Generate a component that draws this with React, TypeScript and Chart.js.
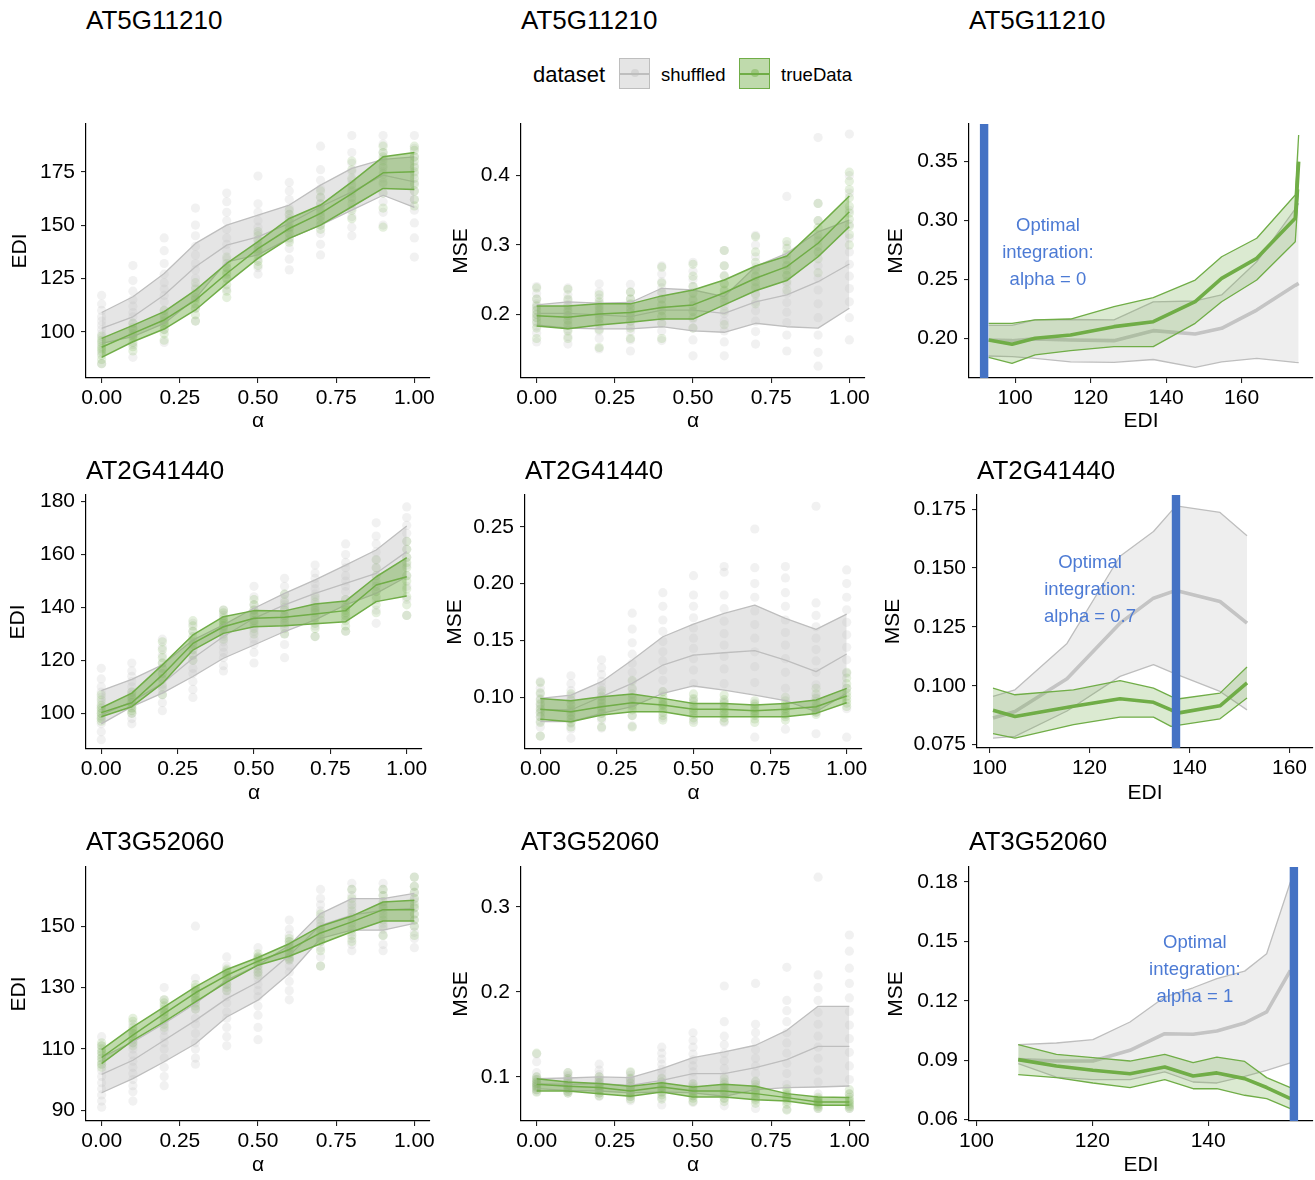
import React, { useEffect, useRef } from "react";
import { Chart, registerables } from "chart.js";
Chart.register(...registerables);

const FONT = "'Liberation Sans', Arial, Helvetica, sans-serif";
const GREEN = "#70AD47";
const GREY = "#BEBEBE";
const BLUE = "#4472C4";
const BLUE_TEXT = "#4C7AD4";

const GENES = ["AT5G11210", "AT2G41440", "AT3G52060"];
const ALPHA = [0, 0.1, 0.2, 0.3, 0.4, 0.5, 0.6, 0.7, 0.8, 0.9, 1.0];
const ALPHA_TICKS = ["0.00", "0.25", "0.50", "0.75", "1.00"];

// ---------------- AT5G11210 ----------------
const G1_EDI_SHUF_HI = [109, 116.4, 127.3, 141.4, 150, 154.7, 159.4, 168.75, 176.6, 180.8, 182];
const G1_EDI_SHUF_MID = [101.6, 107, 117.2, 130.5, 140.6, 144.5, 150.8, 158.6, 165.6, 173.4, 170.3];
const G1_EDI_SHUF_LO = [94.5, 97.7, 103.9, 115.6, 132.8, 136, 143.75, 150, 157, 164, 158.3];
const G1_EDI_TRUE_HI = [96.9, 103, 109.4, 119.5, 132, 142.2, 153.1, 159.4, 170.3, 182, 184];
const G1_EDI_TRUE_MID = [92.7, 99.2, 105.5, 114.8, 127.3, 139, 148.4, 155.5, 164.8, 174.5, 175];
const G1_EDI_TRUE_LO = [88, 95.3, 101.25, 110.2, 122.7, 134.4, 143.75, 150, 158.6, 167.2, 166.7];
const G1_EDI_SHUF_PTS = [
  [117, 113, 110, 107, 105, 103, 101, 99, 97, 94, 90, 85],
  [131, 124, 119, 115, 112, 109, 107, 104, 101, 98, 94, 88],
  [144, 138, 132, 127, 123, 120, 117, 114, 110, 106, 101, 95],
  [158, 150, 145, 140, 136, 132, 129, 125, 121, 116, 111, 105],
  [165, 161, 156, 152, 148, 144, 141, 138, 134, 130, 125, 120],
  [173, 160, 156, 152, 149, 146, 143, 140, 137, 134, 130, 127],
  [170, 166, 162, 158, 155, 152, 149, 146, 143, 139, 134, 129],
  [187, 176, 171, 167, 163, 160, 157, 154, 150, 146, 141, 136],
  [192, 184, 179, 175, 171, 168, 165, 162, 158, 154, 149, 145],
  [192, 188, 184, 181, 178, 175, 172, 169, 165, 161, 156, 150],
  [192, 186, 182, 178, 174, 170, 166, 162, 157, 151, 144, 135],
];
const G1_EDI_TRUE_PTS = [
  [98, 96, 95, 93, 92, 91, 89, 87, 85],
  [104, 102, 101, 99, 98, 97, 95, 93, 91],
  [110, 108, 107, 105, 104, 103, 101, 99, 96],
  [123, 120, 118, 116, 115, 113, 111, 108, 105],
  [135, 132, 130, 128, 127, 125, 122, 119, 116],
  [147, 145, 143, 141, 139, 138, 136, 133, 131],
  [157, 155, 153, 151, 149, 148, 146, 144, 142],
  [166, 163, 160, 158, 156, 154, 152, 150, 148],
  [180, 176, 172, 169, 166, 163, 160, 157, 153],
  [187, 184, 182, 180, 177, 174, 170, 165, 158, 149],
  [187, 185, 182, 180, 177, 175, 172, 169, 166, 162, 159],
];
const G1_MSE_SHUF_HI = [0.2135, 0.218, 0.216, 0.217, 0.2375, 0.235, 0.2255, 0.269, 0.288, 0.319, 0.336];
const G1_MSE_SHUF_MID = [0.2014, 0.2014, 0.199, 0.1966, 0.206, 0.206, 0.2014, 0.218, 0.228, 0.247, 0.2726];
const G1_MSE_SHUF_LO = [0.1846, 0.18, 0.179, 0.179, 0.182, 0.176, 0.174, 0.187, 0.182, 0.18, 0.2087];
const G1_MSE_TRUE_HI = [0.212, 0.212, 0.215, 0.215, 0.2265, 0.235, 0.2495, 0.2697, 0.284, 0.3265, 0.3708];
const G1_MSE_TRUE_MID = [0.198, 0.1957, 0.2005, 0.2024, 0.2096, 0.2135, 0.231, 0.252, 0.2688, 0.3025, 0.348];
const G1_MSE_TRUE_LO = [0.183, 0.179, 0.1846, 0.1885, 0.193, 0.193, 0.2135, 0.234, 0.2486, 0.283, 0.3265];
const G1_MSE_SHUF_PTS = [
  [0.24, 0.23, 0.222, 0.215, 0.21, 0.205, 0.2, 0.195, 0.19, 0.183, 0.173, 0.16],
  [0.238, 0.228, 0.22, 0.214, 0.208, 0.203, 0.198, 0.192, 0.186, 0.178, 0.168, 0.157],
  [0.244, 0.232, 0.223, 0.215, 0.209, 0.203, 0.198, 0.192, 0.185, 0.176, 0.165, 0.15],
  [0.243, 0.232, 0.222, 0.214, 0.208, 0.202, 0.196, 0.19, 0.183, 0.175, 0.163, 0.147],
  [0.27, 0.258, 0.247, 0.238, 0.23, 0.222, 0.214, 0.206, 0.197, 0.187, 0.176, 0.162],
  [0.275, 0.262, 0.25, 0.24, 0.231, 0.222, 0.213, 0.204, 0.193, 0.18, 0.163, 0.14],
  [0.292, 0.27, 0.256, 0.244, 0.233, 0.222, 0.212, 0.201, 0.19, 0.176, 0.16, 0.14],
  [0.314, 0.3, 0.283, 0.268, 0.255, 0.242, 0.23, 0.218, 0.205, 0.19, 0.175, 0.157],
  [0.37, 0.3, 0.285, 0.27, 0.256, 0.243, 0.23, 0.217, 0.203, 0.188, 0.17, 0.147],
  [0.455, 0.36, 0.335, 0.31, 0.29, 0.27, 0.252, 0.235, 0.215, 0.195, 0.17, 0.145, 0.125],
  [0.46, 0.4, 0.375, 0.35, 0.33, 0.31, 0.29, 0.272, 0.255, 0.237, 0.218, 0.195, 0.163],
];
const G1_MSE_TRUE_PTS = [
  [0.238, 0.222, 0.212, 0.206, 0.2, 0.195, 0.188, 0.18, 0.165],
  [0.236, 0.222, 0.212, 0.205, 0.198, 0.191, 0.184, 0.176, 0.165],
  [0.228, 0.218, 0.212, 0.206, 0.2, 0.194, 0.187, 0.178, 0.152],
  [0.232, 0.222, 0.215, 0.209, 0.203, 0.197, 0.19, 0.18, 0.165],
  [0.268, 0.245, 0.232, 0.222, 0.213, 0.205, 0.197, 0.187, 0.165],
  [0.272, 0.255, 0.24, 0.23, 0.22, 0.212, 0.204, 0.195, 0.18],
  [0.292, 0.27, 0.255, 0.244, 0.235, 0.227, 0.218, 0.205, 0.185],
  [0.312, 0.29, 0.275, 0.264, 0.255, 0.247, 0.238, 0.228, 0.215],
  [0.305, 0.295, 0.287, 0.279, 0.271, 0.264, 0.256, 0.247, 0.235],
  [0.36, 0.335, 0.325, 0.315, 0.306, 0.298, 0.29, 0.28, 0.26],
  [0.405, 0.392, 0.38, 0.368, 0.356, 0.346, 0.337, 0.327, 0.315, 0.3],
];
const G1_R_EDI = [93, 99.2, 105.3, 114.7, 126.2, 136.6, 147.7, 154.7, 164, 174.2, 175.1];
const G1_R_SHUF_HI = [0.211, 0.211, 0.2156, 0.216, 0.2156, 0.231, 0.2317, 0.2368, 0.265, 0.31, 0.3146];
const G1_R_SHUF_MID = [0.1986, 0.198, 0.1995, 0.1986, 0.198, 0.2065, 0.2037, 0.2085, 0.224, 0.245, 0.2467];
const G1_R_SHUF_LO = [0.185, 0.1844, 0.183, 0.18, 0.1796, 0.182, 0.1754, 0.18, 0.183, 0.1795, 0.1793];
const G1_R_TRUE_HI = [0.2127, 0.2127, 0.2156, 0.2164, 0.227, 0.2345, 0.2495, 0.2693, 0.285, 0.3217, 0.3726];
const G1_R_TRUE_MID = [0.1986, 0.195, 0.2, 0.2028, 0.2099, 0.2141, 0.2311, 0.2509, 0.2679, 0.3019, 0.35];
const G1_R_TRUE_LO = [0.1839, 0.1788, 0.1859, 0.1895, 0.1929, 0.1929, 0.2127, 0.2311, 0.2495, 0.282, 0.3265];
const G1_OPT_EDI = 91.8;
const G1_OPT_TEXT = ["Optimal", "integration:", "alpha = 0"];

// ---------------- AT2G41440 ----------------
const G2_EDI_SHUF_HI = [108.6, 112.8, 118.3, 127.7, 133.4, 139.7, 145.3, 150.4, 156, 161.7, 170.8];
const G2_EDI_SHUF_MID = [99.4, 104.4, 111.3, 120.8, 129, 135.9, 141, 145.3, 149.1, 152.9, 161.1];
const G2_EDI_SHUF_LO = [96, 102.5, 107.6, 113.9, 120.8, 125.8, 130.9, 135.3, 141, 145.3, 151.6];
const G2_EDI_TRUE_HI = [102.1, 107.6, 118.3, 129.6, 136.5, 138.8, 138.7, 141.3, 142.4, 151.6, 158.8];
const G2_EDI_TRUE_MID = [100.25, 104, 114.5, 126.4, 132.7, 135.9, 136.3, 137.5, 138.8, 148.5, 151.6];
const G2_EDI_TRUE_LO = [98.7, 102.5, 111.3, 123.9, 130.2, 132.7, 133.1, 133.8, 134.6, 142.2, 144.3];
const G2_EDI_SHUF_PTS = [
  [117, 113, 110, 108, 106, 104, 102, 100, 98, 96, 93, 90],
  [119, 116, 114, 112, 110, 108, 106, 104, 102, 100, 98, 96],
  [128, 125, 122, 119, 117, 115, 113, 111, 109, 107, 104, 101],
  [134, 131, 128, 126, 124, 122, 120, 117, 115, 112, 109, 106],
  [139, 137, 135, 133, 131, 129, 127, 125, 123, 121, 118, 116],
  [148, 144, 141, 139, 137, 135, 133, 131, 128, 126, 123, 119],
  [151, 148, 145, 143, 141, 139, 137, 135, 133, 130, 126, 121],
  [156, 153, 151, 149, 147, 145, 143, 141, 139, 136, 133, 129],
  [164, 160, 157, 155, 152, 150, 148, 146, 143, 140, 136, 131],
  [172, 167, 164, 161, 158, 155, 152, 149, 146, 143, 139, 134],
  [178, 174, 171, 168, 165, 162, 159, 156, 152, 148, 143, 137],
];
const G2_EDI_TRUE_PTS = [
  [107, 105, 103, 102, 101, 100, 99, 98, 97],
  [108, 107, 106, 105, 104, 103, 102, 101, 100],
  [127, 124, 121, 119, 117, 115, 113, 110, 107],
  [135, 133, 131, 129, 127, 126, 124, 122, 120],
  [139, 138, 136, 135, 134, 133, 132, 130, 128],
  [143, 141, 139, 138, 137, 135, 134, 132, 130],
  [145, 142, 140, 139, 137, 136, 134, 132, 130],
  [144, 142, 140, 139, 138, 136, 134, 132, 129],
  [143, 141, 140, 139, 138, 137, 135, 133, 131],
  [158, 155, 152, 150, 148, 146, 144, 141, 138],
  [165, 162, 159, 157, 155, 152, 150, 147, 144, 141, 137],
];
const G2_MSE_SHUF_HI = [0.0991, 0.102, 0.1138, 0.1328, 0.1533, 0.1644, 0.1738, 0.1811, 0.1694, 0.1598, 0.1732];
const G2_MSE_SHUF_MID = [0.0895, 0.0889, 0.1006, 0.1123, 0.1284, 0.1372, 0.1392, 0.141, 0.1328, 0.1226, 0.1381];
const G2_MSE_SHUF_LO = [0.0786, 0.0786, 0.0859, 0.0918, 0.1035, 0.11, 0.1064, 0.102, 0.0971, 0.0874, 0.1035];
const G2_MSE_TRUE_HI = [0.0991, 0.0971, 0.1006, 0.1029, 0.0991, 0.0947, 0.0947, 0.0933, 0.0947, 0.0977, 0.1079];
const G2_MSE_TRUE_MID = [0.0895, 0.0874, 0.0918, 0.0953, 0.0933, 0.0895, 0.0895, 0.0883, 0.0895, 0.0918, 0.1012];
const G2_MSE_TRUE_LO = [0.0807, 0.0786, 0.0845, 0.0874, 0.0874, 0.083, 0.083, 0.083, 0.083, 0.0859, 0.0953];
const G2_MSE_SHUF_PTS = [
  [0.114, 0.108, 0.103, 0.099, 0.095, 0.092, 0.089, 0.086, 0.083, 0.079, 0.074, 0.066],
  [0.119, 0.112, 0.106, 0.101, 0.097, 0.093, 0.089, 0.085, 0.081, 0.077, 0.072, 0.064],
  [0.133, 0.126, 0.12, 0.114, 0.109, 0.104, 0.1, 0.096, 0.091, 0.086, 0.08, 0.073],
  [0.174, 0.16, 0.148, 0.138, 0.13, 0.122, 0.114, 0.107, 0.1, 0.092, 0.084, 0.075],
  [0.192, 0.18, 0.168, 0.158, 0.149, 0.14, 0.132, 0.124, 0.115, 0.105, 0.094, 0.082],
  [0.207, 0.19, 0.18, 0.17, 0.161, 0.152, 0.143, 0.134, 0.124, 0.112, 0.098, 0.08],
  [0.215, 0.21, 0.19, 0.178, 0.167, 0.156, 0.146, 0.136, 0.125, 0.112, 0.096, 0.078],
  [0.248, 0.214, 0.2, 0.188, 0.176, 0.164, 0.152, 0.14, 0.127, 0.113, 0.095, 0.065],
  [0.215, 0.205, 0.192, 0.18, 0.168, 0.157, 0.146, 0.134, 0.122, 0.108, 0.092, 0.072],
  [0.268, 0.183, 0.172, 0.162, 0.152, 0.142, 0.132, 0.122, 0.111, 0.1, 0.087, 0.068],
  [0.212, 0.2, 0.188, 0.177, 0.166, 0.155, 0.144, 0.133, 0.121, 0.108, 0.09, 0.065],
];
const G2_MSE_TRUE_PTS = [
  [0.113, 0.104, 0.098, 0.094, 0.09, 0.087, 0.083, 0.078, 0.066],
  [0.103, 0.098, 0.094, 0.09, 0.087, 0.084, 0.081, 0.078, 0.074],
  [0.106, 0.101, 0.098, 0.095, 0.092, 0.089, 0.086, 0.082, 0.074],
  [0.115, 0.108, 0.103, 0.099, 0.096, 0.093, 0.089, 0.084, 0.074],
  [0.105, 0.101, 0.098, 0.095, 0.093, 0.09, 0.087, 0.084, 0.08],
  [0.103, 0.099, 0.096, 0.093, 0.09, 0.088, 0.085, 0.082, 0.078],
  [0.102, 0.098, 0.095, 0.092, 0.09, 0.087, 0.085, 0.082, 0.079],
  [0.097, 0.094, 0.092, 0.09, 0.088, 0.086, 0.084, 0.081, 0.078],
  [0.1, 0.097, 0.094, 0.092, 0.09, 0.088, 0.085, 0.083, 0.08],
  [0.108, 0.103, 0.099, 0.096, 0.093, 0.091, 0.089, 0.087, 0.085],
  [0.122, 0.117, 0.112, 0.108, 0.104, 0.101, 0.098, 0.095, 0.092],
];
const G2_R_SHUF_EDI = [100.7, 105.1, 115.5, 126.1, 132.8, 137.3, 146.1, 151.5];
const G2_R_SHUF_HI = [0.0955, 0.0983, 0.118, 0.155, 0.1655, 0.1764, 0.1736, 0.1637];
const G2_R_SHUF_MID = [0.0863, 0.0891, 0.103, 0.1266, 0.1372, 0.1405, 0.1358, 0.1266];
const G2_R_SHUF_LO = [0.0778, 0.0785, 0.0893, 0.104, 0.109, 0.105, 0.0976, 0.0898];
const G2_R_TRUE_EDI = [100.7, 105.1, 116.8, 126.1, 132.8, 136.3, 137.6, 146.1, 151.5];
const G2_R_TRUE_HI = [0.099, 0.0962, 0.0983, 0.1022, 0.099, 0.0955, 0.0944, 0.0969, 0.108];
const G2_R_TRUE_MID = [0.0896, 0.087, 0.0913, 0.0945, 0.093, 0.0898, 0.0884, 0.0915, 0.1012];
const G2_R_TRUE_LO = [0.0797, 0.0778, 0.0835, 0.0867, 0.0867, 0.0828, 0.0832, 0.086, 0.0948];
const G2_OPT_EDI = 137.3;
const G2_OPT_TEXT = ["Optimal", "integration:", "alpha = 0.7"];

// ---------------- AT3G52060 ----------------
const G3_EDI_SHUF_HI = [107.2, 112.3, 118.3, 124.8, 132.4, 137.3, 143.8, 154.1, 159, 159, 160.7];
const G3_EDI_SHUF_MID = [101.7, 106.3, 112.8, 119.3, 126.4, 131.8, 140.5, 150.3, 153.6, 155.2, 155.8];
const G3_EDI_SHUF_LO = [95.7, 100.3, 105.8, 111.7, 120.4, 125.9, 134.6, 146, 148.7, 148.7, 150.9];
const G3_EDI_TRUE_HI = [109.8, 117.2, 123.7, 130.2, 135.9, 139.8, 144.3, 150, 153.3, 157.9, 158.5];
const G3_EDI_TRUE_MID = [107.2, 114.5, 121.5, 128.3, 134, 138.6, 142.4, 147.8, 151.4, 155.4, 155.4];
const G3_EDI_TRUE_LO = [105.2, 112.8, 118.8, 125.3, 131.8, 137.3, 140.2, 144.3, 148.2, 151.7, 151.7];
const G3_EDI_SHUF_PTS = [
  [114, 111, 109, 107, 105, 103, 101, 99, 97, 95, 93, 91],
  [118, 115, 112, 110, 108, 106, 104, 102, 100, 98, 96, 93],
  [130, 126, 122, 119, 116, 114, 112, 110, 107, 104, 101, 98],
  [150, 133, 129, 126, 123, 120, 118, 115, 112, 110, 107, 105],
  [140, 137, 134, 131, 129, 127, 125, 122, 120, 117, 114, 111],
  [143, 140, 137, 135, 133, 131, 129, 127, 124, 121, 117, 113],
  [152, 149, 147, 145, 143, 141, 139, 137, 135, 132, 129, 126],
  [162, 159, 157, 155, 153, 151, 149, 147, 145, 143, 140, 137],
  [164, 162, 160, 158, 156, 154, 152, 150, 148, 146, 144, 142],
  [164, 162, 160, 158, 156, 155, 153, 151, 149, 147, 144, 142],
  [166, 163, 161, 159, 158, 156, 154, 152, 150, 148, 146, 143],
];
const G3_EDI_TRUE_PTS = [
  [112, 111, 110, 109, 108, 107, 106, 105, 104],
  [120, 119, 117, 116, 115, 114, 113, 112, 111],
  [126, 125, 124, 123, 122, 121, 120, 118, 117],
  [131, 130, 129, 128, 127, 126, 125, 124, 123],
  [136, 135.5, 135, 134, 133, 132, 131, 130, 129],
  [141, 140, 139.5, 139, 138, 137, 136, 135, 134],
  [146, 145, 144, 143, 142, 141, 140, 139.5, 139],
  [154, 152, 150, 149, 148, 146, 145, 142, 137],
  [162, 159, 157, 155, 153, 151, 149, 147, 145],
  [162, 160, 158, 157, 156, 154, 152, 150, 147],
  [166, 163, 161, 159, 157, 156, 154, 152, 150, 147],
];
const G3_MSE_SHUF_HI = [0.098, 0.0988, 0.1, 0.0992, 0.1098, 0.1227, 0.1294, 0.1373, 0.1549, 0.1831, 0.1831];
const G3_MSE_SHUF_MID = [0.0922, 0.0914, 0.0922, 0.0902, 0.0961, 0.1039, 0.1039, 0.111, 0.1204, 0.1361, 0.1361];
const G3_MSE_SHUF_LO = [0.0863, 0.0843, 0.0835, 0.0812, 0.0824, 0.0812, 0.0773, 0.0851, 0.0875, 0.0882, 0.0894];
const G3_MSE_TRUE_HI = [0.098, 0.0941, 0.0922, 0.089, 0.0933, 0.0882, 0.0914, 0.089, 0.0804, 0.0765, 0.0757];
const G3_MSE_TRUE_MID = [0.0914, 0.089, 0.0875, 0.0835, 0.0882, 0.0835, 0.0835, 0.0804, 0.0757, 0.0706, 0.0706];
const G3_MSE_TRUE_LO = [0.0835, 0.0835, 0.0804, 0.0773, 0.0824, 0.0765, 0.0765, 0.0733, 0.0718, 0.0667, 0.0667];
const G3_MSE_SHUF_PTS = [
  [0.127, 0.118, 0.105, 0.1, 0.097, 0.095, 0.093, 0.091, 0.089, 0.087, 0.085, 0.083],
  [0.105, 0.102, 0.1, 0.098, 0.096, 0.094, 0.092, 0.09, 0.088, 0.086, 0.083, 0.081],
  [0.115, 0.108, 0.103, 0.1, 0.097, 0.094, 0.092, 0.09, 0.087, 0.084, 0.081, 0.077],
  [0.105, 0.102, 0.099, 0.096, 0.094, 0.092, 0.089, 0.087, 0.084, 0.081, 0.077, 0.072],
  [0.135, 0.128, 0.121, 0.115, 0.109, 0.104, 0.099, 0.094, 0.089, 0.083, 0.076, 0.067],
  [0.152, 0.143, 0.135, 0.127, 0.12, 0.113, 0.106, 0.099, 0.092, 0.085, 0.078, 0.07],
  [0.207, 0.165, 0.148, 0.138, 0.128, 0.119, 0.11, 0.101, 0.092, 0.083, 0.075, 0.066],
  [0.21, 0.162, 0.152, 0.142, 0.132, 0.122, 0.113, 0.104, 0.094, 0.084, 0.074, 0.063],
  [0.229, 0.19, 0.178, 0.165, 0.152, 0.14, 0.128, 0.116, 0.104, 0.091, 0.077, 0.062],
  [0.335, 0.22, 0.205, 0.19, 0.176, 0.162, 0.148, 0.135, 0.122, 0.108, 0.094, 0.08, 0.063],
  [0.267, 0.248, 0.228, 0.21, 0.193, 0.177, 0.161, 0.145, 0.129, 0.113, 0.097, 0.08, 0.063],
];
const G3_MSE_TRUE_PTS = [
  [0.128, 0.1, 0.097, 0.094, 0.092, 0.09, 0.088, 0.085, 0.082],
  [0.105, 0.098, 0.095, 0.092, 0.09, 0.088, 0.086, 0.083, 0.081],
  [0.1, 0.096, 0.093, 0.09, 0.088, 0.086, 0.084, 0.081, 0.078],
  [0.106, 0.098, 0.093, 0.089, 0.086, 0.083, 0.08, 0.077, 0.074],
  [0.098, 0.094, 0.091, 0.089, 0.087, 0.085, 0.082, 0.079, 0.074],
  [0.092, 0.089, 0.087, 0.085, 0.083, 0.081, 0.078, 0.075, 0.071],
  [0.098, 0.094, 0.091, 0.088, 0.085, 0.082, 0.079, 0.075, 0.071],
  [0.095, 0.091, 0.088, 0.085, 0.082, 0.079, 0.076, 0.073, 0.069],
  [0.086, 0.083, 0.08, 0.078, 0.076, 0.074, 0.071, 0.068, 0.061],
  [0.076, 0.074, 0.072, 0.071, 0.07, 0.069, 0.067, 0.065, 0.063],
  [0.085, 0.08, 0.076, 0.073, 0.071, 0.069, 0.067, 0.065, 0.063],
];
const G3_R_EDI = [107.2, 113.8, 120.1, 126.5, 132.5, 137.4, 141.5, 146.3, 150.1, 154.2];
const G3_R_SHUF_HI = [0.0979, 0.0987, 0.1004, 0.1093, 0.1219, 0.1266, 0.1312, 0.135, 0.1438, 0.18];
const G3_R_SHUF_MID = [0.0903, 0.0896, 0.0896, 0.095, 0.1034, 0.1031, 0.1048, 0.1088, 0.1144, 0.1354];
const G3_R_SHUF_LO = [0.0883, 0.0815, 0.0802, 0.0802, 0.0841, 0.079, 0.0785, 0.0819, 0.0849, 0.0886];
const G3_R_TRUE_HI = [0.0979, 0.093, 0.0913, 0.0896, 0.093, 0.0888, 0.0916, 0.0894, 0.0812, 0.0762];
const G3_R_TRUE_MID = [0.0903, 0.0871, 0.0849, 0.0832, 0.0866, 0.082, 0.0836, 0.0807, 0.0762, 0.0706];
const G3_R_TRUE_LO = [0.0827, 0.0812, 0.0785, 0.0762, 0.0802, 0.0756, 0.0756, 0.0723, 0.0706, 0.0656];
const G3_OPT_EDI = 154.8;
const G3_OPT_TEXT = ["Optimal", "integration:", "alpha = 1"];

// ---------------- panel specs (layout) ----------------
type Band = { x: number[]; lo: number[]; mid: number[]; hi: number[] };
type Spec = {
  cx: number; cy: number; cw: number; ch: number;
  L: number; T: number; R: number; B: number;
  yTitleX: number;
  xr: [number, number]; yr: [number, number];
  xt: string[]; yt: string[];
  xTitle: string; yTitle: string;
  shuf: Band; tru: Band;
  shufPts?: number[][]; truPts?: number[][];
  right?: boolean;
  opt?: { edi: number; lx: number; ly: number; lines: string[] };
};

const band = (x: number[], lo: number[], mid: number[], hi: number[]): Band => ({ x, lo, mid, hi });

const ROW_Y = [124, 495, 867];
const ROW_B = [378, 749, 1121];
const ROW_CY = [102, 473, 845];
const ROW_CH = [332, 333, 333];

const SPECS: Spec[] = [
  {
    cx: 0, cy: ROW_CY[0], cw: 440, ch: ROW_CH[0], L: 86, T: ROW_Y[0], R: 430, B: ROW_B[0], yTitleX: 20,
    xr: [-0.05, 1.05], yr: [78.3, 197.4], xt: ALPHA_TICKS, yt: ["100", "125", "150", "175"], xTitle: "α", yTitle: "EDI",
    shuf: band(ALPHA, G1_EDI_SHUF_LO, G1_EDI_SHUF_MID, G1_EDI_SHUF_HI), tru: band(ALPHA, G1_EDI_TRUE_LO, G1_EDI_TRUE_MID, G1_EDI_TRUE_HI),
    shufPts: G1_EDI_SHUF_PTS, truPts: G1_EDI_TRUE_PTS,
  },
  {
    cx: 440, cy: ROW_CY[0], cw: 440, ch: ROW_CH[0], L: 521, T: ROW_Y[0], R: 865, B: ROW_B[0], yTitleX: 461.7,
    xr: [-0.05, 1.05], yr: [0.108, 0.4746], xt: ALPHA_TICKS, yt: ["0.2", "0.3", "0.4"], xTitle: "α", yTitle: "MSE",
    shuf: band(ALPHA, G1_MSE_SHUF_LO, G1_MSE_SHUF_MID, G1_MSE_SHUF_HI), tru: band(ALPHA, G1_MSE_TRUE_LO, G1_MSE_TRUE_MID, G1_MSE_TRUE_HI),
    shufPts: G1_MSE_SHUF_PTS, truPts: G1_MSE_TRUE_PTS,
  },
  {
    cx: 880, cy: ROW_CY[0], cw: 435, ch: ROW_CH[0], L: 969, T: ROW_Y[0], R: 1313, B: ROW_B[0], yTitleX: 896.7,
    xr: [87.8, 178.9], yr: [0.1663, 0.382], xt: ["100", "120", "140", "160"], yt: ["0.20", "0.25", "0.30", "0.35"], xTitle: "EDI", yTitle: "MSE",
    shuf: band(G1_R_EDI, G1_R_SHUF_LO, G1_R_SHUF_MID, G1_R_SHUF_HI), tru: band(G1_R_EDI, G1_R_TRUE_LO, G1_R_TRUE_MID, G1_R_TRUE_HI),
    right: true, opt: { edi: G1_OPT_EDI, lx: 108.7, ly: 0.2725, lines: G1_OPT_TEXT },
  },
  {
    cx: 0, cy: ROW_CY[1], cw: 440, ch: ROW_CH[1], L: 86, T: ROW_Y[1], R: 422, B: ROW_B[1], yTitleX: 18.3,
    xr: [-0.05, 1.05], yr: [86.5, 182.5], xt: ALPHA_TICKS, yt: ["100", "120", "140", "160", "180"], xTitle: "α", yTitle: "EDI",
    shuf: band(ALPHA, G2_EDI_SHUF_LO, G2_EDI_SHUF_MID, G2_EDI_SHUF_HI), tru: band(ALPHA, G2_EDI_TRUE_LO, G2_EDI_TRUE_MID, G2_EDI_TRUE_HI),
    shufPts: G2_EDI_SHUF_PTS, truPts: G2_EDI_TRUE_PTS,
  },
  {
    cx: 440, cy: ROW_CY[1], cw: 440, ch: ROW_CH[1], L: 525, T: ROW_Y[1], R: 862, B: ROW_B[1], yTitleX: 455,
    xr: [-0.05, 1.05], yr: [0.0546, 0.2779], xt: ALPHA_TICKS, yt: ["0.10", "0.15", "0.20", "0.25"], xTitle: "α", yTitle: "MSE",
    shuf: band(ALPHA, G2_MSE_SHUF_LO, G2_MSE_SHUF_MID, G2_MSE_SHUF_HI), tru: band(ALPHA, G2_MSE_TRUE_LO, G2_MSE_TRUE_MID, G2_MSE_TRUE_HI),
    shufPts: G2_MSE_SHUF_PTS, truPts: G2_MSE_TRUE_PTS,
  },
  {
    cx: 880, cy: ROW_CY[1], cw: 435, ch: ROW_CH[1], L: 977, T: ROW_Y[1], R: 1313, B: 748, yTitleX: 893.3,
    xr: [97.5, 164.7], yr: [0.0736, 0.181], xt: ["100", "120", "140", "160"], yt: ["0.075", "0.100", "0.125", "0.150", "0.175"], xTitle: "EDI", yTitle: "MSE",
    shuf: band(G2_R_SHUF_EDI, G2_R_SHUF_LO, G2_R_SHUF_MID, G2_R_SHUF_HI), tru: band(G2_R_TRUE_EDI, G2_R_TRUE_LO, G2_R_TRUE_MID, G2_R_TRUE_HI),
    right: true, opt: { edi: G2_OPT_EDI, lx: 120.1, ly: 0.1407, lines: G2_OPT_TEXT },
  },
  {
    cx: 0, cy: ROW_CY[2], cw: 440, ch: ROW_CH[2], L: 86, T: ROW_Y[2], R: 430, B: ROW_B[2], yTitleX: 19.3,
    xr: [-0.05, 1.05], yr: [86.5, 169.3], xt: ALPHA_TICKS, yt: ["90", "110", "130", "150"], xTitle: "α", yTitle: "EDI",
    shuf: band(ALPHA, G3_EDI_SHUF_LO, G3_EDI_SHUF_MID, G3_EDI_SHUF_HI), tru: band(ALPHA, G3_EDI_TRUE_LO, G3_EDI_TRUE_MID, G3_EDI_TRUE_HI),
    shufPts: G3_EDI_SHUF_PTS, truPts: G3_EDI_TRUE_PTS,
  },
  {
    cx: 440, cy: ROW_CY[2], cw: 440, ch: ROW_CH[2], L: 521, T: ROW_Y[2], R: 865, B: ROW_B[2], yTitleX: 461.7,
    xr: [-0.05, 1.05], yr: [0.0482, 0.347], xt: ALPHA_TICKS, yt: ["0.1", "0.2", "0.3"], xTitle: "α", yTitle: "MSE",
    shuf: band(ALPHA, G3_MSE_SHUF_LO, G3_MSE_SHUF_MID, G3_MSE_SHUF_HI), tru: band(ALPHA, G3_MSE_TRUE_LO, G3_MSE_TRUE_MID, G3_MSE_TRUE_HI),
    shufPts: G3_MSE_SHUF_PTS, truPts: G3_MSE_TRUE_PTS,
  },
  {
    cx: 880, cy: ROW_CY[2], cw: 435, ch: ROW_CH[2], L: 969, T: ROW_Y[2], R: 1313, B: ROW_B[2], yTitleX: 896.7,
    xr: [98.7, 158.1], yr: [0.0593, 0.1876], xt: ["100", "120", "140"], yt: ["0.06", "0.09", "0.12", "0.15", "0.18"], xTitle: "EDI", yTitle: "MSE",
    shuf: band(G3_R_EDI, G3_R_SHUF_LO, G3_R_SHUF_MID, G3_R_SHUF_HI), tru: band(G3_R_EDI, G3_R_TRUE_LO, G3_R_TRUE_MID, G3_R_TRUE_HI),
    right: true, opt: { edi: G3_OPT_EDI, lx: 137.7, ly: 0.1356, lines: G3_OPT_TEXT },
  },
];

const TITLE_Y = [20.8, 470.8, 841];

// ---------------- chart building ----------------
const optimalPlugin = {
  id: "optimal",
  afterDatasetsDraw(chart: any, _args: any, opts: any) {
    if (!opts || opts.edi == null) return;
    const { ctx, chartArea, scales } = chart;
    const x = scales.x.getPixelForValue(opts.edi);
    ctx.save();
    ctx.fillStyle = BLUE;
    ctx.fillRect(x - 4.2, chartArea.top, 8.4, chartArea.bottom - chartArea.top);
    ctx.font = `18.5px ${FONT}`;
    ctx.fillStyle = BLUE_TEXT;
    ctx.textAlign = "center";
    ctx.textBaseline = "middle";
    const lx = scales.x.getPixelForValue(opts.lx);
    const ly = scales.y.getPixelForValue(opts.ly);
    opts.lines.forEach((t: string, i: number) => ctx.fillText(t, lx, ly + (i - 1) * 27));
    ctx.restore();
  },
};

function buildConfig(s: Spec): any {
  const datasets: any[] = [];
  const toXY = (xs: number[], ys: number[]) => xs.map((x, i) => ({ x, y: ys[i] }));
  const fromGroups = (groups: number[][]) => groups.flatMap((ys, i) => ys.map((y) => ({ x: ALPHA[i], y })));

  if (s.shufPts) {
    datasets.push({ data: fromGroups(s.shufPts), showLine: false, pointRadius: 4.6, pointBackgroundColor: "rgba(185,185,185,0.2)", pointBorderWidth: 0, pointBorderColor: "rgba(0,0,0,0)", order: 100 });
  }
  if (s.truPts) {
    datasets.push({ data: fromGroups(s.truPts), showLine: false, pointRadius: 4.6, pointBackgroundColor: "rgba(112,173,71,0.18)", pointBorderWidth: 0, pointBorderColor: "rgba(0,0,0,0)", order: 99 });
  }

  const addBand = (b: Band, edge: string, fill: string, midColor: string, edgeW: number, midW: number, order: number) => {
    const loIdx = datasets.length;
    datasets.push({ data: toXY(b.x, b.lo), borderColor: edge, borderWidth: edgeW, pointRadius: 0, fill: false, order, borderJoinStyle: "round" });
    datasets.push({ data: toXY(b.x, b.hi), borderColor: edge, borderWidth: edgeW, pointRadius: 0, fill: loIdx, backgroundColor: fill, order, borderJoinStyle: "round" });
    datasets.push({ data: toXY(b.x, b.mid), borderColor: midColor, borderWidth: midW, pointRadius: 0, fill: false, order: order - 1, borderJoinStyle: "round", borderCapStyle: "butt" });
  };

  if (s.right) {
    addBand(s.shuf, GREY, "rgba(190,190,190,0.26)", "#C4C4C4", 1.3, 3.6, 50);
    addBand(s.tru, GREEN, "rgba(112,173,71,0.25)", GREEN, 1.3, 3.6, 40);
  } else {
    addBand(s.shuf, GREY, "rgba(190,190,190,0.4)", GREY, 1.3, 1.3, 50);
    addBand(s.tru, GREEN, "rgba(112,173,71,0.45)", GREEN, 1.5, 1.5, 40);
  }

  const tickFont = { family: FONT, size: 21 };
  const titleFont = { family: FONT, size: 21, lineHeight: 1.2 };
  const mkAxis = (axis: "x" | "y", range: [number, number], ticks: string[], title: string) => {
    const labelMap = new Map<number, string>();
    ticks.forEach((t) => labelMap.set(parseFloat(t), t));
    return {
      type: "linear",
      position: axis === "x" ? "bottom" : "left",
      min: range[0],
      max: range[1],
      afterBuildTicks: (sc: any) => {
        sc.ticks = ticks.map((t) => ({ value: parseFloat(t) }));
      },
      afterFit: (sc: any) => {
        if (axis === "y") sc.width = s.L - s.cx;
        else sc.height = s.cy + s.ch - s.B;
        sc.paddingLeft = 0; sc.paddingRight = 0; sc.paddingTop = 0; sc.paddingBottom = 0;
      },
      ticks: {
        autoSkip: false, maxRotation: 0, minRotation: 0,
        padding: axis === "x" ? 3 : 6,
        color: "#000", font: tickFont,
        callback: (v: number) => labelMap.get(v) ?? "",
      },
      grid: { display: true, drawOnChartArea: false, drawTicks: true, tickLength: 5, color: "#222", lineWidth: 1.1 },
      border: { display: true, color: "#000", width: 1.2 },
      title: {
        display: true, text: title, color: "#000", font: titleFont,
        padding: axis === "y" ? { top: s.yTitleX - s.cx - 12.6, bottom: 0 } : { top: 0, bottom: 0 },
      },
    };
  };

  return {
    type: "line",
    data: { datasets },
    options: {
      responsive: false,
      animation: false,
      devicePixelRatio: 1,
      events: [],
      layout: { padding: { left: 0, top: s.T - s.cy, right: s.cx + s.cw - s.R, bottom: 0 } },
      elements: { line: { tension: 0 } },
      plugins: {
        legend: { display: false },
        tooltip: { enabled: false },
        title: { display: false },
        optimal: s.opt ? { edi: s.opt.edi, lx: s.opt.lx, ly: s.opt.ly, lines: s.opt.lines } : {},
      },
      scales: {
        x: mkAxis("x", s.xr, s.xt, s.xTitle),
        y: mkAxis("y", s.yr, s.yt, s.yTitle),
      },
    },
    plugins: s.opt ? [optimalPlugin] : [],
  };
}

function Panel({ spec }: { spec: Spec }) {
  const ref = useRef<HTMLCanvasElement | null>(null);
  useEffect(() => {
    if (!ref.current) return;
    const chart = new Chart(ref.current, buildConfig(spec));
    return () => chart.destroy();
  }, [spec]);
  return (
    <canvas
      ref={ref}
      width={spec.cw}
      height={spec.ch}
      style={{ position: "absolute", left: spec.cx, top: spec.cy, width: spec.cw, height: spec.ch }}
    />
  );
}

function Text({ x, y, size, children, color = "#000" }: { x: number; y: number; size: number; children: React.ReactNode; color?: string }) {
  const lh = Math.round(size * 1.2);
  return (
    <div style={{ position: "absolute", left: x, top: y - lh / 2, height: lh, lineHeight: `${lh}px`, fontSize: size, fontFamily: FONT, color, whiteSpace: "nowrap" }}>
      {children}
    </div>
  );
}

function LegendKey({ x, y, edge, fill }: { x: number; y: number; edge: string; fill: string }) {
  return (
    <div style={{ position: "absolute", left: x, top: y, width: 31, height: 31, boxSizing: "border-box", border: `1.5px solid ${edge}`, background: fill }}>
      <div style={{ position: "absolute", left: 0, right: 0, top: 14, height: 1.5, background: edge }} />
      <div style={{ position: "absolute", left: 11, top: 10, width: 8, height: 8, borderRadius: 4, background: fill }} />
    </div>
  );
}

export default function App() {
  return (
    <div style={{ position: "absolute", left: 0, top: 0, width: 1315, height: 1180, overflow: "hidden", background: "#fff" }}>
      {SPECS.map((s, i) => (
        <Panel key={i} spec={s} />
      ))}
      {SPECS.map((s, i) => (
        <Text key={"t" + i} x={s.L} y={TITLE_Y[Math.floor(i / 3)]} size={26}>
          {GENES[Math.floor(i / 3)]}
        </Text>
      ))}
      <Text x={533} y={74.5} size={22}>dataset</Text>
      <LegendKey x={619} y={58} edge={GREY} fill="rgba(190,190,190,0.4)" />
      <Text x={661} y={74.5} size={18.5}>shuffled</Text>
      <LegendKey x={739} y={58} edge={GREEN} fill="rgba(112,173,71,0.45)" />
      <Text x={781} y={74.5} size={18.5}>trueData</Text>
    </div>
  );
}
